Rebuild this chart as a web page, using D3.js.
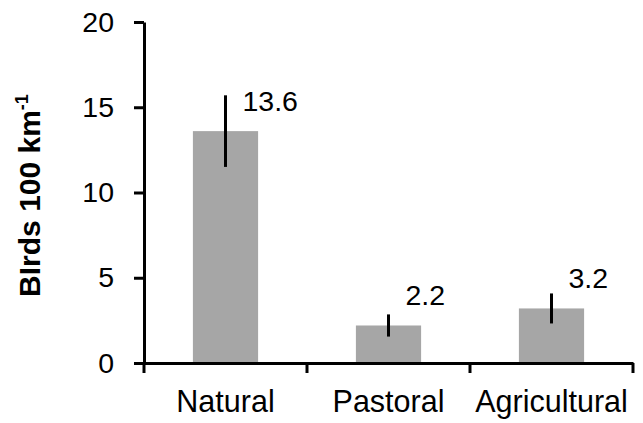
<!DOCTYPE html>
<html>
<head>
<meta charset="utf-8">
<script src="https://cdn.jsdelivr.net/npm/d3@7"></script>
<style>
  body { margin: 0; background: #fff; }
  svg { display: block; font-family: "Liberation Sans", Arial, sans-serif; }
</style>
</head>
<body>
<svg id="chart" width="643" height="423"></svg>
<script>
const categories = ['Natural', 'Pastoral', 'Agricultural'];
const values = [13.6, 2.2, 3.2];
const errors = [2.1, 0.65, 0.88];
const labels = ['13.6', '2.2', '3.2'];
const yTicks = [0, 5, 10, 15, 20];

const margin = { left: 144, right: 10, top: 22, bottom: 60 };
const width = 643, height = 423;

const svg = d3.select('#chart');

const x = d3.scaleBand()
    .domain(categories)
    .range([margin.left, width - margin.right])
    .padding(0);

const y = d3.scaleLinear()
    .domain([0, 20])
    .range([height - margin.bottom, margin.top]);

const barW = x.bandwidth() * 0.4;

// bars
svg.selectAll('rect.bar')
    .data(categories)
    .enter()
    .append('rect')
    .attr('class', 'bar')
    .attr('x', d => x(d) + (x.bandwidth() - barW) / 2)
    .attr('y', (d, i) => y(values[i]))
    .attr('width', barW)
    .attr('height', (d, i) => y(0) - y(values[i]))
    .attr('fill', '#a6a6a6');

// error bars
svg.selectAll('line.err')
    .data(categories)
    .enter()
    .append('line')
    .attr('class', 'err')
    .attr('x1', d => x(d) + x.bandwidth() / 2)
    .attr('x2', d => x(d) + x.bandwidth() / 2)
    .attr('y1', (d, i) => y(values[i] + errors[i]))
    .attr('y2', (d, i) => y(values[i] - errors[i]))
    .attr('stroke', '#000')
    .attr('stroke-width', 3);

// value labels
svg.selectAll('text.val')
    .data(categories)
    .enter()
    .append('text')
    .attr('class', 'val')
    .attr('x', d => x(d) + x.bandwidth() / 2 + 17)
    .attr('y', (d, i) => y(values[i]) - 20)
    .attr('font-size', 28.5)
    .attr('fill', '#000')
    .text((d, i) => labels[i]);

// y axis
const yAxis = svg.append('g')
    .attr('transform', `translate(${margin.left},0)`)
    .call(d3.axisLeft(y).tickValues(yTicks).tickSize(10).tickPadding(20).tickSizeOuter(0));
yAxis.select('.domain').attr('stroke-width', 3);
yAxis.selectAll('.tick line').attr('stroke-width', 3);
yAxis.selectAll('.tick text').attr('font-size', 28.5).attr('font-family', null).attr('fill', '#000');

// x axis
const xAxis = svg.append('g')
    .attr('transform', `translate(0,${y(0)})`)
    .call(d3.axisBottom(x).tickSize(0).tickSizeOuter(0));
xAxis.select('.domain').attr('stroke-width', 3);
xAxis.selectAll('.tick text')
    .attr('font-size', 30.5)
    .attr('font-family', null)
    .attr('fill', '#000')
    .attr('dy', 0)
    .attr('y', 49);

// x axis tick marks at category boundaries
const bounds = categories.map(d => x(d)).concat([x(categories[categories.length - 1]) + x.bandwidth()]);
xAxis.selectAll('line.bound')
    .data(bounds)
    .enter()
    .append('line')
    .attr('class', 'bound')
    .attr('x1', d => d)
    .attr('x2', d => d)
    .attr('y1', 0)
    .attr('y2', 10)
    .attr('stroke', '#000')
    .attr('stroke-width', 3);

// y axis title
const title = svg.append('text')
    .attr('transform', `translate(40,${(y(0) + y(20)) / 2 + 3}) rotate(-90)`)
    .attr('text-anchor', 'middle')
    .attr('font-size', 30)
    .attr('font-weight', 'bold')
    .attr('fill', '#000');
title.append('tspan').text('BIrds 100 km');
title.append('tspan').attr('font-size', 18).attr('dy', -12).text('-1');
</script>
</body>
</html>
